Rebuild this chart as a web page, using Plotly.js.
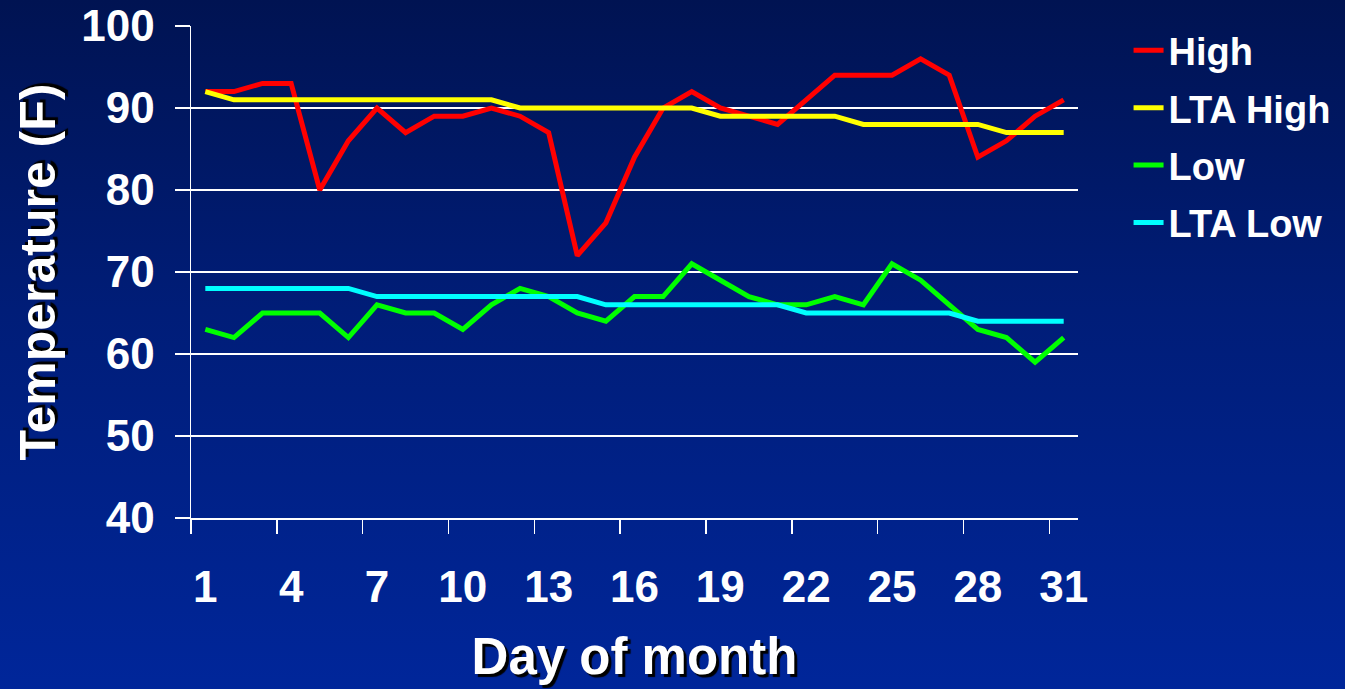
<!DOCTYPE html>
<html>
<head>
<meta charset="utf-8">
<script src="https://cdn.plot.ly/plotly-3.0.1.min.js"></script>
<style>
html,body{margin:0;padding:0;width:1345px;height:689px;overflow:hidden;}
body{background:linear-gradient(to bottom,#001352 0%,#001d78 45%,#00269a 100%);}
#chart{width:1345px;height:689px;}
</style>
</head>
<body>
<div id="chart"></div>
<script>
const days = Array.from({length:31},(_,i)=>i+1);
const high    = [92,92,93,93,80,86,90,87,89,89,90,89,87,72,76,84,90,92,90,89,88,91,94,94,94,96,94,84,86,89,91];
const ltaHigh = [92,91,91,91,91,91,91,91,91,91,91,90,90,90,90,90,90,90,89,89,89,89,89,88,88,88,88,88,87,87,87];
const low     = [63,62,65,65,65,62,66,65,65,63,66,68,67,65,64,67,67,71,69,67,66,66,67,66,71,69,66,63,62,59,62];
const ltaLow  = [68,68,68,68,68,68,67,67,67,67,67,67,67,67,66,66,66,66,66,66,66,65,65,65,65,65,65,64,64,64,64];
const seriesNames = ["High","LTA High","Low","LTA Low"];
const seriesColors = ["#ff0000","#ffff00","#00ff00","#00ffff"];
const xTickLabels = ["1","4","7","10","13","16","19","22","25","28","31"];
const xTickVals = [1,4,7,10,13,16,19,22,25,28,31];
const xBoundaryTicks = [0.5,3.5,6.5,9.5,12.5,15.5,18.5,21.5,24.5,27.5,30.5];
const yTickVals = [40,50,60,70,80,90,100];

const FONT = "Arial, 'Liberation Sans', sans-serif";
const seriesData = [high, ltaHigh, low, ltaLow];
const traces = seriesData.map((d,i)=>({
  x: days, y: d, type:'scatter', mode:'lines', name: seriesNames[i], legendgroup:'g'+i,
  line:{color:seriesColors[i], width:5}
}));
traces.push({x:[0.5,31.5], y:[40,40], xaxis:'x2', mode:'lines', line:{width:0}, showlegend:false, hoverinfo:'skip'});

const layout = {
  width:1345, height:689,
  paper_bgcolor:'rgba(0,0,0,0)', plot_bgcolor:'rgba(0,0,0,0)',
  margin:{l:191, r:267, t:26, b:171, autoexpand:false},
  font:{family:FONT, color:'white'},
  showlegend:true,
  legend:{x:1.057, xanchor:'left', y:1.014, yanchor:'top', bgcolor:'rgba(0,0,0,0)', traceorder:'grouped',
          font:{family:FONT, size:38, color:'white', weight:'bold'}, tracegroupgap:5},
  xaxis:{range:[0.5,31.5], tickvals:xTickVals, ticktext:xTickLabels, ticks:'',
         showgrid:false, zeroline:false, showline:true, linecolor:'white', linewidth:1.5,
         tickfont:{family:FONT, size:44, color:'white', weight:'bold'}, ticklabelstandoff:30,
         title:{text:'Day of month', font:{family:FONT, size:51, color:'white', weight:'bold', shadow:'3px 3px 1px #000000'}, standoff:28}},
  xaxis2:{range:[0.5,31.5], overlaying:'x', anchor:'y', side:'bottom', tickvals:xBoundaryTicks,
          showticklabels:false, ticks:'outside', ticklen:15, tickwidth:1.5, tickcolor:'white',
          showgrid:false, zeroline:false, showline:false},
  yaxis:{range:[40,100], tickvals:yTickVals, ticks:'outside', ticklen:15, tickwidth:1.5, tickcolor:'white',
         showgrid:true, gridcolor:'white', gridwidth:1.5, zeroline:false,
         showline:true, linecolor:'white', linewidth:1.5,
         tickfont:{family:FONT, size:44, color:'white', weight:'bold'}, ticklabelstandoff:11,
         title:{text:'Temperature (F)', font:{family:FONT, size:50, color:'white', weight:'bold', shadow:'3px 3px 1px #000000'}, standoff:10}}
};
Plotly.newPlot('chart', traces, layout, {displayModeBar:false, staticPlot:true});
</script>
</body>
</html>
